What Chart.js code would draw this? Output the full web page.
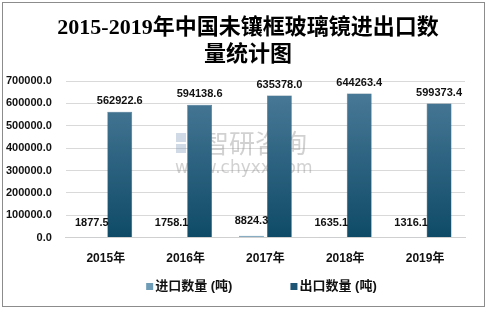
<!DOCTYPE html>
<html>
<head>
<meta charset="utf-8">
<script src="https://cdn.jsdelivr.net/npm/chart.js"></script>
<style>
  html, body { margin: 0; padding: 0; background: #fff; }
  #wrap { width: 488px; height: 310px; }
</style>
</head>
<body>
<div id="wrap"><canvas id="tradeChart" width="488" height="310"></canvas></div>
<script>
const years = ["2015年", "2016年", "2017年", "2018年", "2019年"];
const importQty = [1877.5, 1758.1, 8824.3, 1635.1, 1316.1];
const exportQty = [562922.6, 594138.6, 635378.0, 644263.4, 599373.4];
const yTicks = [0, 100000, 200000, 300000, 400000, 500000, 600000, 700000];
const seriesNames = ["进口数量 (吨)", "出口数量 (吨)"];
const titleLines = ["2015-2019年中国未镶框玻璃镜进出口数", "量统计图"];

const cjk = "'Liberation Sans', 'Noto Sans CJK SC', sans-serif";

// border around the whole picture + title
const frame = {
  id: "frame",
  afterDraw(chart) {
    const ctx = chart.ctx;
    ctx.save();
    ctx.strokeStyle = "#8c8c8c";
    ctx.lineWidth = 1;
    ctx.strokeRect(2.5, 2.5, 482, 304);
    ctx.fillStyle = "#000";
    ctx.font = "bold 22px 'Liberation Serif', 'Noto Sans CJK SC', serif";
    ctx.textAlign = "center";
    ctx.textBaseline = "middle";
    ctx.fillText(titleLines[0], 248, 28);
    ctx.fillText(titleLines[1], 248, 55);
    ctx.restore();
  },
};

// faint watermark behind bars
const watermark = {
  id: "watermark",
  beforeDatasetsDraw(chart) {
    const ctx = chart.ctx;
    ctx.save();
    ctx.fillStyle = "rgba(120,150,185,0.35)";
    ctx.fillRect(176, 133, 10, 9);
    ctx.fillRect(176, 144, 10, 9);
    ctx.fillRect(188, 133, 11, 20);
    ctx.fillStyle = "rgba(140,140,140,0.4)";
    ctx.font = "26px 'Noto Sans CJK SC'";
    ctx.textBaseline = "middle";
    ctx.fillText("智研咨询", 203, 143);
    ctx.font = "17px 'DejaVu Sans'";
    ctx.fillText("www.chyxx.com", 175, 169);
    ctx.restore();
  },
};

// value labels above the bars
const valueLabels = {
  id: "valueLabels",
  afterDatasetsDraw(chart) {
    const ctx = chart.ctx;
    ctx.save();
    ctx.font = "bold 11px " + cjk;
    ctx.fillStyle = "#111";
    ctx.textAlign = "center";
    ctx.textBaseline = "bottom";
    chart.data.datasets.forEach((ds, i) => {
      const meta = chart.getDatasetMeta(i);
      meta.data.forEach((bar, j) => {
        const y = i === 0 ? bar.y - 9 : bar.y - 5;
        ctx.fillText(ds.data[j].toFixed(1), bar.x, y);
      });
    });
    ctx.restore();
  },
};

// legend under the x axis, roughly centred on the plot
const bottomLegend = {
  id: "bottomLegend",
  afterDraw(chart) {
    const ctx = chart.ctx;
    const area = chart.chartArea;
    const swatches = ["#6f9cb6", "#1f5574"];
    ctx.save();
    ctx.font = "bold 13px " + cjk;
    ctx.textBaseline = "middle";
    const gap = 58;
    const widths = seriesNames.map((t) => 9 + ctx.measureText(t).width);
    const total = widths[0] + gap + widths[1];
    let x = (area.left + area.right) / 2 - 4 - total / 2;
    const y = 286;
    seriesNames.forEach((name, i) => {
      ctx.fillStyle = swatches[i];
      ctx.fillRect(x, y - 3, 7, 7);
      ctx.fillStyle = "#111";
      ctx.fillText(name, x + 9, y);
      x += widths[i] + gap;
    });
    ctx.restore();
  },
};

function exportFill(context) {
  const area = context.chart.chartArea;
  if (!area) return "#2f6483";
  const g = context.chart.ctx.createLinearGradient(0, area.top, 0, area.bottom);
  g.addColorStop(0, "#4d7d9b");
  g.addColorStop(1, "#0e4a66");
  return g;
}

const ctx = document.getElementById("tradeChart").getContext("2d");
new Chart(ctx, {
  type: "bar",
  data: {
    labels: years,
    datasets: [
      {
        label: seriesNames[0],
        data: importQty,
        backgroundColor: "#6f9cb6",
        borderColor: "#5a889f",
        borderWidth: 0.5,
        categoryPercentage: 0.7,
        barPercentage: 0.89,
      },
      {
        label: seriesNames[1],
        data: exportQty,
        backgroundColor: exportFill,
        borderColor: "#2a5872",
        borderWidth: 0.5,
        categoryPercentage: 0.7,
        barPercentage: 0.89,
      },
    ],
  },
  options: {
    responsive: false,
    animation: false,
    layout: { padding: { left: 4, right: 23, top: 81, bottom: 42 } },
    plugins: {
      title: { display: false },
      legend: { display: false },
      tooltip: { enabled: false },
    },
    scales: {
      x: {
        grid: { display: false, tickLength: 12 },
        border: { color: "#d0d0d0" },
        ticks: { color: "#111", padding: 2, font: { family: cjk, size: 12, weight: "bold" } },
      },
      y: {
        min: 0,
        max: 700000,
        afterBuildTicks(axis) {
          axis.ticks = yTicks.map((v) => ({ value: v }));
        },
        grid: { color: "#d9d9d9", drawTicks: true, tickLength: 12, tickColor: "rgba(0,0,0,0)" },
        border: { display: false },
        ticks: {
          autoSkip: false,
          color: "#111",
          padding: 2,
          font: { family: cjk, size: 11, weight: "bold" },
          callback: (v) => v.toFixed(1),
        },
      },
    },
  },
  plugins: [watermark, valueLabels, bottomLegend, frame],
});
</script>
</body>
</html>
